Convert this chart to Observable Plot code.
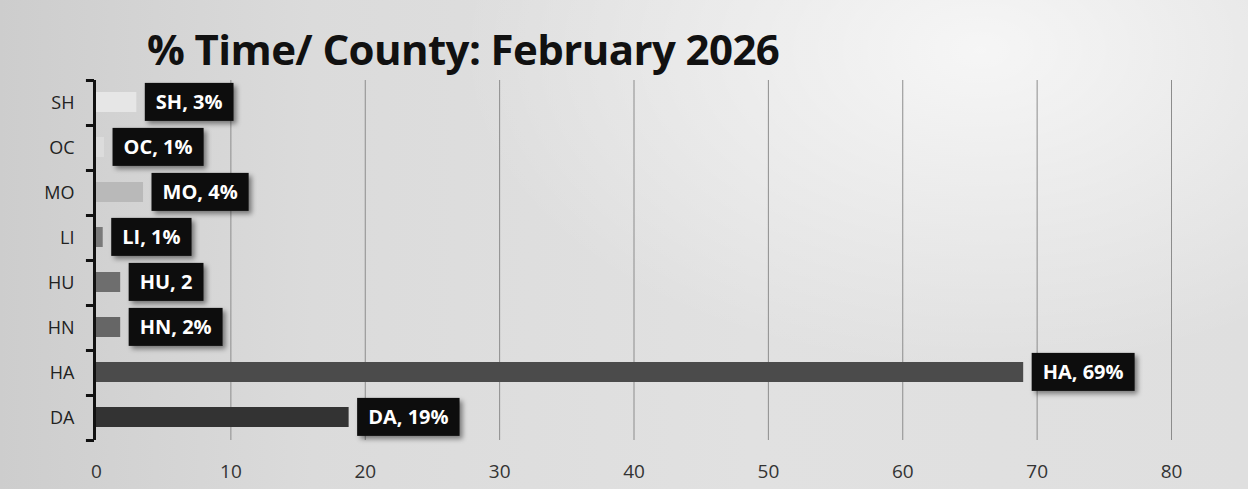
<!DOCTYPE html>
<html>
<head>
<meta charset="utf-8">
<script src="https://cdn.jsdelivr.net/npm/d3@7"></script>
<script src="https://cdn.jsdelivr.net/npm/@observablehq/plot@0.6"></script>
<style>
  html, body { margin: 0; padding: 0; }
  body {
    width: 1248px; height: 489px; overflow: hidden;
    background:
      radial-gradient(ellipse 520px 320px at 980px 50px, rgba(255,255,255,0.7), rgba(255,255,255,0) 100%),
      linear-gradient(to right, #cdcdcd 0%, #dbdbdb 25%, #e1e1e1 60%, #dfdfdf 100%);
    font-family: "Open Sans", sans-serif;
  }
  #title {
    height: 78px; box-sizing: border-box;
    padding: 28px 0 0 147px;
    font: 700 42px "Open Sans", sans-serif;
    letter-spacing: -0.6px;
    color: #111;
    line-height: 1;
    white-space: nowrap;
  }
</style>
</head>
<body>
<div id="title">% Time/ County: February 2026</div>
<div id="chart"></div>
<script>
const counties = ["SH", "OC", "MO", "LI", "HU", "HN", "HA", "DA"];
const values = [3, 0.6, 3.5, 0.5, 1.8, 1.8, 69, 18.8];
const labels = ["SH, 3%", "OC, 1%", "MO, 4%", "LI, 1%", "HU, 2", "HN, 2%", "HA, 69%", "DA, 19%"];
const barColors = ["#e6e6e6", "#dcdcdc", "#b9b9b9", "#7a7a7a", "#6e6e6e", "#666666", "#4b4b4b", "#333333"];
const xTicks = [0, 10, 20, 30, 40, 50, 60, 70, 80];

const data = counties.map((c, i) => ({county: c, value: values[i], label: labels[i], color: barColors[i]}));

const band = 45;
const chart = Plot.plot({
  width: 1248,
  height: 411,
  marginLeft: 96,
  marginRight: 77,
  marginTop: 2,
  marginBottom: 49,
  style: {background: "transparent", fontFamily: "Open Sans, sans-serif"},
  x: {domain: [0, 80], axis: null},
  y: {domain: counties, padding: 0, axis: null},
  marks: [
    Plot.ruleX(xTicks.filter(d => d > 0), {stroke: "#8c8c8c", strokeWidth: 1}),
    Plot.axisX(xTicks, {tickSize: 0, tickPadding: 24, fontSize: 19, fill: "#333", anchor: "bottom", label: null}),
    Plot.axisY({tickSize: 0, tickPadding: 22, fontSize: 18, fill: "#222", label: null}),
    Plot.barX(data, {y: "county", x: "value", fill: "color", insetTop: 12, insetBottom: 13}),
    Plot.ruleX([0], {stroke: "#111", strokeWidth: 3, dx: -2}),
    Plot.ruleY(data, {y: "county", x1: -0.6, x2: 0, dx: -2, dy: -band / 2, stroke: "#111", strokeWidth: 3}),
    Plot.ruleY(data.slice(-1), {y: "county", x1: -0.6, x2: 0, dx: -2, dy: band / 2, stroke: "#111", strokeWidth: 3}),
    Plot.text(data, {y: "county", x: "value", text: "label", textAnchor: "start", dx: 19, fill: "white", fontWeight: 700, fontSize: 20, className: "dlabel"})
  ]
});
document.getElementById("chart").appendChild(chart);

// Draw black callout boxes behind each data label, sized from the rendered text.
const svgNS = "http://www.w3.org/2000/svg";
const defs = document.createElementNS(svgNS, "defs");
defs.innerHTML = '<filter id="shadow" x="-20%" y="-30%" width="150%" height="170%"><feDropShadow dx="3" dy="3" stdDeviation="2.5" flood-color="#000" flood-opacity="0.45"/></filter>';
chart.insertBefore(defs, chart.firstChild);
const g = chart.querySelector("g.dlabel");
g.querySelectorAll("text").forEach(t => {
  const b = t.getBBox();
  const r = document.createElementNS(svgNS, "rect");
  const padX = 11, h = 38;
  const cy = b.y + b.height / 2;
  r.setAttribute("x", b.x - padX);
  r.setAttribute("y", cy - h / 2);
  r.setAttribute("width", b.width + padX * 2);
  r.setAttribute("height", h);
  r.setAttribute("fill", "#0c0c0c");
  r.setAttribute("filter", "url(#shadow)");
  const tr = t.getAttribute("transform");
  if (tr) r.setAttribute("transform", tr);
  g.insertBefore(r, t);
});
</script>
</body>
</html>
